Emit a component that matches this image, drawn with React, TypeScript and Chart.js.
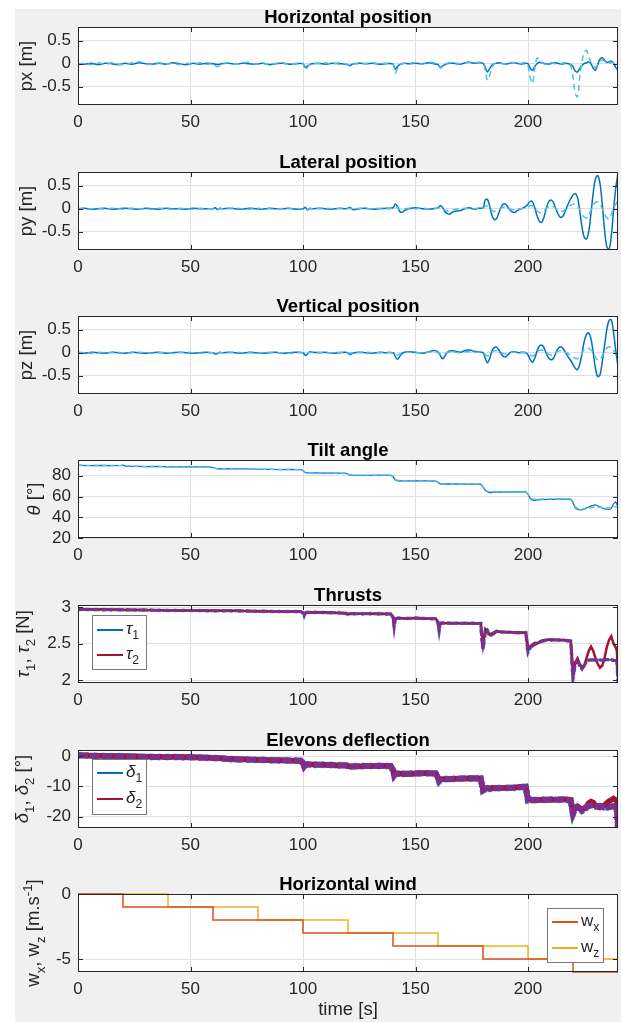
import React, { useEffect, useRef } from 'react';
import { Chart, registerables } from 'chart.js';

Chart.register(...registerables);

const FONT = '"Liberation Sans", Arial, Helvetica, sans-serif';
const TXT = '#262626';
const GRID = '#dfdfdf';

// ---------- axes ----------
const xTicks = [0, 50, 100, 150, 200];
const xTickLabels = ['0', '50', '100', '150', '200'];
const posTicks = [-0.5, 0, 0.5];
const posTickLabels = ['-0.5', '0', '0.5'];
const tiltTicks = [20, 40, 60, 80];
const tiltTickLabels = ['20', '40', '60', '80'];
const thrTicks = [2, 2.5, 3];
const thrTickLabels = ['2', '2.5', '3'];
const elevTicks = [-20, -10, 0];
const elevTickLabels = ['-20', '-10', '0'];
const windTicks = [-5, 0];
const windTickLabels = ['-5', '0'];

// ---------- positions ----------
const tPos = [
  0, 3, 6, 9, 12, 15, 18, 21, 24, 27, 30, 33, 36, 39, 42, 45, 48, 51, 54, 57,
  60, 61, 62, 63, 64,
  67, 70, 73, 76, 79, 82, 85, 88, 91, 94, 97,
  100, 101, 102, 103, 104,
  107, 110, 113, 116, 119,
  120, 121, 122,
  125, 128, 131, 134, 137,
  140, 141, 142, 143, 144, 145,
  147, 150, 153, 156, 158,
  160, 161, 162, 163, 164, 165,
  167, 170, 172, 174, 176, 178,
  180, 181, 182, 183, 184, 185, 186, 187, 188, 189,
  190, 191, 192, 193, 194, 195, 196, 197, 198, 199,
  200, 201, 202, 203, 204, 205, 206, 207, 208, 209,
  210, 211, 212, 213, 214, 215, 216, 217, 218, 219,
  220, 221, 222, 223, 224, 225, 226, 227, 228, 229,
  230, 231, 232, 233, 234, 235, 236, 237, 238, 239,
  240,
];

const pxSolid = [
  0, -0.01, 0.01, -0.02, 0.01, 0, -0.02, 0.01, -0.01, 0.02, 0, -0.01, 0.01, -0.01, 0.02, 0, -0.02, 0.01, -0.01, 0.01,
  0, -0.01, -0.02, -0.01, 0,
  0.01, -0.01, 0.01, 0, -0.01, 0.01, -0.02, 0, 0.01, -0.01, 0,
  0, -0.08, -0.05, -0.02, 0,
  0.01, -0.01, 0.01, 0, -0.01,
  -0.02, -0.04, -0.01,
  0.01, 0, 0.01, -0.01, 0,
  -0.01, -0.12, -0.06, -0.02, 0, 0.01,
  0, 0.01, 0, 0.02, 0,
  -0.02, -0.08, -0.05, -0.02, 0, 0.01,
  0.01, -0.01, 0.02, 0.03, 0.01, 0.02,
  0.01, -0.08, -0.18, -0.1, -0.03, 0, 0.01, 0.02, 0.01, 0,
  -0.01, 0, 0.01, 0.02, 0.02, 0.01, 0, -0.01, 0, 0.01,
  0, -0.1, -0.14, -0.06, 0, 0.03, 0.02, 0.01, 0, -0.01,
  0, 0.01, 0.02, 0.01, 0, -0.01, 0, 0.01, 0, -0.02,
  -0.06, -0.16, -0.18, -0.1, -0.04, 0, 0.02, 0.04, 0, -0.1,
  -0.14, -0.02, 0.1, 0.13, 0.08, 0.03, 0.04, 0.06, 0.01, -0.08,
  -0.14,
];
const pxDashed = [
  -0.01, 0.01, -0.02, 0.02, -0.01, 0.02, -0.01, -0.02, 0.02, 0.04, 0.01, -0.02, 0.02, -0.01, 0.01, -0.02, 0.01, -0.01, 0.02, -0.01,
  0, -0.04, -0.07, -0.04, 0,
  0.02, -0.01, 0.02, 0.03, -0.01, 0.02, -0.02, 0.01, 0.02, -0.02, 0.01,
  0, -0.14, -0.08, -0.02, 0.01,
  0, 0.02, -0.01, 0.02, 0,
  -0.03, -0.05, -0.01,
  0, 0.01, 0.02, 0, 0.01,
  -0.02, -0.21, -0.1, -0.03, 0, 0.01,
  0.01, 0.02, -0.01, 0.03, 0.02,
  -0.03, -0.1, -0.06, -0.02, 0.01, 0.02,
  0.02, 0, 0.02, 0.03, 0.02, 0.03,
  0.02, -0.15, -0.36, -0.25, -0.08, 0, 0.02, 0.03, 0.02, 0,
  -0.01, 0.01, 0.02, 0.03, 0.02, 0.01, 0, 0.01, 0.02, 0.01,
  -0.05, -0.3, -0.43, -0.1, 0.12, 0.1, 0.03, 0, -0.01, 0,
  0.02, 0.01, 0, -0.01, 0, 0.01, 0.02, 0.01, 0, -0.05,
  -0.3, -0.65, -0.72, -0.3, 0.05, 0.25, 0.29, 0.15, 0.02, -0.05,
  -0.08, -0.02, 0.05, 0.08, 0.06, 0.02, 0, 0.03, 0.01, -0.05,
  -0.1,
];

const pySolid = [
  0, 0.01, -0.01, 0, 0.01, -0.01, 0, 0.01, 0, -0.01, 0.01, 0, -0.01, 0.01, 0, 0, -0.01, 0.01, 0, 0,
  0, 0.02, -0.02, 0.01, 0,
  0.01, 0, -0.01, 0.01, 0, -0.01, 0.01, 0, 0, 0.01, -0.01,
  0, 0.03, -0.03, 0.01, 0,
  0.01, 0, -0.01, 0.01, 0,
  0.01, 0.03, -0.02,
  0, 0.01, -0.01, 0, 0.01,
  0.02, 0.1, 0.05, -0.06, -0.08, -0.04,
  0, 0.02, 0, -0.01, 0,
  0.02, 0.07, 0.03, -0.06, -0.1, -0.12,
  -0.06, -0.04, 0, 0.02, -0.01, 0.01,
  0.02, 0.19, 0.2, 0.05, -0.15, -0.24, -0.22, -0.1, 0.03, 0.1,
  0.1, 0.04, -0.03, -0.07, -0.08, -0.05, -0.02, 0, 0.02, 0.05,
  0.1, 0.16, 0.15, 0.02, -0.15, -0.27, -0.3, -0.2, -0.02, 0.13,
  0.19, 0.16, 0.05, -0.08, -0.17, -0.19, -0.12, 0, 0.12, 0.22,
  0.3, 0.33, 0.25, -0.05, -0.4, -0.62, -0.66, -0.5, -0.1, 0.35,
  0.66, 0.72, 0.55, 0.1, -0.45, -0.82, -0.89, -0.6, -0.05, 0.45,
  0.78,
];
const pyDashed = [
  0.01, -0.01, 0, 0.01, -0.01, 0.01, 0, -0.01, 0.01, 0, 0, -0.01, 0.01, 0, -0.01, 0.01, 0, -0.01, 0.01, 0,
  0, 0.01, -0.01, 0, 0,
  0, 0.01, 0, -0.01, 0.01, 0, 0, -0.01, 0.01, 0, 0,
  0, 0.01, -0.01, 0, 0,
  0, 0.01, 0, 0, 0.01,
  0, 0.01, -0.01,
  0.01, 0, 0, 0.01, 0,
  0.01, 0.05, 0.03, -0.02, -0.03, -0.01,
  0.01, 0, 0.01, 0, 0.01,
  0.01, 0.03, 0.01, -0.03, -0.05, -0.04,
  -0.02, 0, 0.01, 0, 0, 0.01,
  0.01, 0.05, 0.06, 0.02, -0.04, -0.06, -0.05, -0.02, 0.01, 0.03,
  0.03, 0.01, -0.01, -0.02, -0.02, -0.01, 0, 0, 0.01, 0.02,
  0.04, 0.07, 0.06, 0.01, -0.05, -0.08, -0.08, -0.05, 0, 0.04,
  0.06, 0.05, 0.02, -0.02, -0.05, -0.06, -0.04, 0, 0.04, 0.08,
  0.1, 0.1, 0.06, -0.02, -0.12, -0.18, -0.2, -0.14, -0.03, 0.08,
  0.14, 0.15, 0.1, 0, -0.12, -0.2, -0.22, -0.12, 0, 0.1,
  0.16,
];

const pzSolid = [
  0, -0.01, 0.01, 0, -0.01, 0.01, 0, -0.01, 0.01, 0, -0.01, 0, 0.01, -0.01, 0, 0.01, 0, -0.01, 0, 0.01,
  0, -0.03, -0.02, 0.01, 0,
  0.01, 0, -0.01, 0.01, 0, -0.01, 0, 0.01, -0.01, 0, 0.01,
  0, -0.06, -0.03, 0.02, 0.01,
  0, 0.01, -0.01, 0, 0.01,
  -0.01, -0.04, -0.01,
  0.01, 0, -0.01, 0.01, 0,
  0, -0.08, -0.14, -0.08, -0.02, 0.01,
  0.02, 0.01, -0.01, 0.02, 0.05,
  0.02, -0.06, -0.13, -0.08, 0, 0.04,
  0.04, 0.01, 0.05, 0.06, 0.03, 0.02,
  0, -0.12, -0.22, -0.12, 0.04, 0.11, 0.12, 0.06, -0.02, -0.08,
  -0.09, -0.05, 0, 0.02, 0.02, 0.01, 0, 0.01, 0.01, 0,
  -0.05, -0.15, -0.21, -0.12, 0.03, 0.14, 0.17, 0.12, 0, -0.1,
  -0.15, -0.14, -0.05, 0.06, 0.12, 0.12, 0.06, -0.02, -0.1, -0.17,
  -0.26, -0.34, -0.37, -0.25, -0.02, 0.25, 0.4, 0.43, 0.3, 0,
  -0.35, -0.52, -0.48, -0.2, 0.15, 0.5, 0.7, 0.72, 0.45, 0.05,
  -0.3,
];
const pzDashed = [
  0.01, 0, -0.01, 0.01, 0, 0, 0.01, -0.01, 0, 0.01, 0, -0.01, 0, 0.01, -0.01, 0, 0.01, 0, -0.01, 0,
  0, -0.01, -0.01, 0, 0,
  0, 0.01, 0, 0, -0.01, 0, 0.01, 0, 0, -0.01, 0,
  0, -0.02, -0.01, 0.01, 0,
  0.01, 0, 0, 0.01, 0,
  0, -0.01, 0,
  0, 0.01, 0, 0, 0.01,
  0, -0.03, -0.05, -0.03, 0, 0,
  0.01, 0, 0, 0.01, 0.02,
  0, -0.03, -0.05, -0.02, 0, 0.01,
  0.01, 0, 0.02, 0.02, 0.01, 0.01,
  0, -0.04, -0.07, -0.04, 0.01, 0.04, 0.04, 0.02, 0, -0.02,
  -0.03, -0.02, 0, 0.01, 0.01, 0, 0, 0, 0, 0,
  -0.02, -0.05, -0.07, -0.04, 0.01, 0.05, 0.06, 0.04, 0, -0.03,
  -0.05, -0.05, -0.02, 0.02, 0.04, 0.04, 0.02, 0, -0.03, -0.06,
  -0.09, -0.12, -0.13, -0.09, -0.01, 0.07, 0.1, 0.1, 0.06, 0,
  -0.1, -0.16, -0.15, -0.07, 0.03, 0.1, 0.13, 0.12, 0.06, -0.04,
  -0.12,
];

// ---------- tilt ----------
const tTilt = [
  0, 5, 10, 15, 19, 20, 21, 25, 30, 35,
  40, 45, 50, 55, 59, 60, 61, 62, 65, 70,
  75, 80, 85, 90, 95, 99, 100, 101, 102, 105,
  110, 115, 119, 120, 121, 125, 130, 135, 139, 140,
  141, 142, 145, 150, 155, 159, 160, 161, 162, 165,
  170, 175, 179, 180, 181, 182, 183, 185, 190, 195,
  199, 200, 201, 202, 203, 205, 210, 215, 219, 220,
  221, 222, 223, 224, 226, 228, 230, 232, 234, 236,
  237, 238, 239, 240,
];
const tiltSolid = [
  90, 89.8, 90, 89.7, 90, 90.3, 89.3, 89, 88.8, 89,
  88.6, 88.7, 88.5, 88.6, 88.4, 88, 87, 86.7, 86.8, 86.6,
  86.7, 86.3, 86.2, 86, 86.1, 85.8, 85, 83, 82.7, 82.8,
  82.6, 82.5, 82.4, 81.5, 80.5, 80.5, 80.4, 80.6, 80.5, 79,
  76, 75, 75.2, 75, 75.1, 74.8, 73.5, 72.2, 72, 72.2,
  72, 71.9, 72, 69, 66, 64.5, 63.5, 64.5, 64.3, 64.5,
  64.4, 62, 58, 56.5, 56.3, 57, 57.2, 57.4, 57.5, 54,
  49, 47.5, 47, 47.2, 49, 51, 52, 50, 48, 47.5,
  48.5, 53, 55, 50,
];
const tiltDashed = [
  90.2, 90, 89.8, 90, 89.8, 90, 89.6, 89.2, 89, 88.9,
  88.7, 88.6, 88.6, 88.5, 88.5, 88.2, 87.2, 86.9, 86.9, 86.7,
  86.6, 86.4, 86.3, 86.1, 86, 85.9, 85.2, 83.3, 82.9, 82.7,
  82.7, 82.4, 82.5, 81.7, 80.8, 80.6, 80.5, 80.5, 80.6, 79.5,
  76.5, 75.5, 75.3, 75.1, 75, 74.9, 73.8, 72.5, 72.1, 72.1,
  72.1, 72, 71.9, 69.5, 66.5, 65, 64.6, 64.6, 64.5, 64.4,
  64.5, 62.5, 58.5, 57.5, 57.5, 57.5, 57.6, 57.5, 57.6, 55,
  50, 48.5, 48, 47.8, 48.2, 49.2, 50, 49.6, 49, 49,
  49.4, 50, 50, 49.5,
];

// ---------- thrusts & elevons ----------
const tAct = [
  0, 10, 20, 30, 40, 50, 60, 70, 80, 90,
  99, 100, 100.5, 101, 102, 105, 110, 115, 119, 120,
  121, 125, 130, 135, 139, 140, 140.5, 141, 142, 145,
  150, 155, 159, 160, 160.5, 161, 162, 165, 170, 175,
  179, 179.5, 180, 181, 182, 183, 184, 186, 188, 190,
  195, 199, 199.5, 200, 201, 202, 203, 204, 206, 208,
  210, 213, 216, 219, 219.5, 220, 221, 222, 223, 224,
  225, 226, 227, 228, 229, 230, 231, 232, 233, 234,
  235, 236, 237, 238, 239, 239.5, 240,
];
const tau1 = [
  2.97, 2.97, 2.965, 2.96, 2.96, 2.955, 2.955, 2.95, 2.945, 2.945,
  2.94, 2.93, 2.89, 2.92, 2.93, 2.93, 2.93, 2.925, 2.92, 2.91,
  2.91, 2.915, 2.91, 2.91, 2.91, 2.88, 2.75, 2.84, 2.85, 2.85,
  2.85, 2.845, 2.845, 2.8, 2.7, 2.78, 2.78, 2.785, 2.78, 2.78,
  2.78, 2.6, 2.45, 2.68, 2.7, 2.63, 2.62, 2.68, 2.66, 2.66,
  2.655, 2.65, 2.55, 2.4, 2.47, 2.46, 2.49, 2.5, 2.53, 2.55,
  2.56, 2.55, 2.55, 2.54, 2.3, 2.08, 2.25, 2.28, 2.2, 2.16,
  2.2, 2.26, 2.28, 2.27, 2.27, 2.28, 2.28, 2.27, 2.28, 2.28,
  2.29, 2.28, 2.28, 2.27, 2.27, 2.27, 2.0,
];
const tau2 = [
  2.965, 2.97, 2.96, 2.96, 2.955, 2.955, 2.95, 2.95, 2.945, 2.94,
  2.94, 2.925, 2.9, 2.92, 2.93, 2.925, 2.93, 2.92, 2.92, 2.905,
  2.91, 2.91, 2.91, 2.905, 2.91, 2.87, 2.78, 2.83, 2.85, 2.845,
  2.85, 2.84, 2.84, 2.8, 2.72, 2.77, 2.78, 2.78, 2.78, 2.775,
  2.78, 2.62, 2.5, 2.7, 2.66, 2.62, 2.64, 2.67, 2.66, 2.655,
  2.655, 2.65, 2.56, 2.45, 2.46, 2.49, 2.51, 2.5, 2.54, 2.55,
  2.555, 2.55, 2.545, 2.54, 2.35, 2.12, 2.24, 2.3, 2.22, 2.18,
  2.2, 2.3, 2.4, 2.46, 2.4, 2.3, 2.22, 2.17, 2.2, 2.3,
  2.45, 2.55, 2.6, 2.5, 2.45, 2.4, 2.05,
];
const tauRef = [
  2.97, 2.965, 2.965, 2.96, 2.955, 2.955, 2.95, 2.95, 2.945, 2.94,
  2.94, 2.92, 2.88, 2.92, 2.93, 2.93, 2.925, 2.925, 2.915, 2.9,
  2.91, 2.91, 2.91, 2.91, 2.905, 2.86, 2.72, 2.84, 2.85, 2.845,
  2.85, 2.845, 2.84, 2.78, 2.68, 2.78, 2.785, 2.78, 2.78, 2.78,
  2.775, 2.55, 2.42, 2.66, 2.66, 2.61, 2.62, 2.67, 2.66, 2.66,
  2.65, 2.65, 2.5, 2.38, 2.45, 2.47, 2.49, 2.51, 2.53, 2.55,
  2.55, 2.55, 2.55, 2.53, 2.25, 2.03, 2.22, 2.27, 2.2, 2.15,
  2.2, 2.25, 2.27, 2.28, 2.28, 2.27, 2.28, 2.28, 2.27, 2.28,
  2.28, 2.28, 2.28, 2.27, 2.27, 2.27, 1.98,
];
const delta1 = [
  0.3, 0.1, 0, -0.1, -0.2, -0.3, -0.5, -1, -1.2, -1.4,
  -1.6, -2.2, -3.2, -2.8, -2.7, -2.8, -2.9, -3, -3, -3.2,
  -3.5, -3.4, -3.3, -3.2, -3.2, -4.5, -6.2, -5.8, -5.8, -5.9,
  -5.7, -5.6, -5.8, -7, -8, -7.8, -7.6, -7.5, -7.4, -7.3,
  -7.4, -9, -11, -10.8, -10.5, -10.7, -10.6, -10.5, -10.6, -10.5,
  -10.3, -10, -12, -14, -14.2, -14.5, -14.6, -14.4, -14.5, -14.3,
  -14.4, -14.3, -14.2, -14.5, -16.5, -18.5, -17, -16.5, -17, -17.8,
  -17.5, -16.8, -16.2, -16, -16.2, -16.5, -16.4, -16.3, -16.5, -16.8,
  -17, -16.8, -16.5, -16.5, -16.6, -17, -23.5,
];
const delta2 = [
  0.2, 0.1, -0.1, -0.2, -0.2, -0.4, -0.6, -1, -1.3, -1.4,
  -1.6, -2.4, -3, -2.8, -2.8, -2.8, -2.9, -3.1, -3, -3.3,
  -3.4, -3.4, -3.3, -3.3, -3.2, -4.7, -6, -5.8, -5.7, -5.9,
  -5.8, -5.6, -5.7, -7.2, -7.8, -7.7, -7.6, -7.5, -7.5, -7.3,
  -7.4, -9.5, -10.8, -10.6, -10.6, -10.7, -10.5, -10.5, -10.6, -10.4,
  -10.3, -10.1, -12.5, -13.8, -14.3, -14.4, -14.6, -14.5, -14.4, -14.3,
  -14.4, -14.4, -14.2, -14.4, -16.8, -18, -17.2, -16.6, -17.2, -17.6,
  -17.2, -16.5, -15.5, -15, -15.3, -16.3, -16.8, -17, -16.6, -16.2,
  -15.5, -14.8, -14.5, -14, -14.5, -15, -22,
];
const deltaRef = [
  0.3, 0, -0.1, -0.3, -0.3, -0.4, -0.6, -1.1, -1.2, -1.5,
  -1.5, -2.3, -3.4, -2.9, -2.7, -2.9, -2.9, -3, -3.1, -3.3,
  -3.4, -3.3, -3.3, -3.2, -3.3, -4.6, -6.4, -5.9, -5.8, -5.8,
  -5.7, -5.7, -5.8, -7.1, -8.2, -7.8, -7.5, -7.6, -7.4, -7.4,
  -7.3, -9.2, -11.3, -10.9, -10.5, -10.8, -10.6, -10.6, -10.5, -10.5,
  -10.4, -10.1, -12.3, -14.5, -14.3, -14.6, -14.5, -14.5, -14.4, -14.4,
  -14.3, -14.4, -14.3, -14.6, -17, -19, -17.3, -16.7, -17.2, -18,
  -17.6, -17, -16.4, -16.2, -16.3, -16.6, -16.5, -16.4, -16.6, -16.9,
  -17, -16.9, -16.6, -16.6, -16.7, -17.2, -23.6,
];

// ---------- wind ----------
const wxTime = [0, 20, 60, 100, 140, 180, 220, 240];
const wxVals = [0, -1, -2, -3, -4, -5, -6, -6];
const wzTime = [0, 40, 80, 120, 160, 200, 240];
const wzVals = [0, -1, -2, -3, -4, -5, -5];

// ---------- colours ----------
const C_BLUE = '#0072BD';
const C_LBLUE = '#4DBEEE';
const C_RED = '#A2142F';
const C_PURPLE = '#7E2F8E';
const C_ORANGE = '#D95319';
const C_YELLOW = '#EDB120';

type Seg = { t: string; it?: boolean; sub?: boolean; sup?: boolean };
type LegendSpec = {
  left?: number;
  right?: number;
  top: number;
  w: number;
  h: number;
  rows: number[];
  items: { color: string; label: Seg[] }[];
};
type PanelSpec = {
  top: number;
  title: string;
  yLabel: Seg[];
  yLabelBase: number;
  yMin: number;
  yMax: number;
  yTicks: number[];
  yTickLabels: string[];
  datasets: any[];
  legend?: LegendSpec;
  xLabel?: string;
  xAxisH: number;
};

const pts = (t: number[], v: number[]) => t.map((x, i) => ({ x, y: v[i] }));
const line = (data: any[], color: string, width: number, dash: number[] = [], extra: any = {}) => ({
  data,
  borderColor: color,
  backgroundColor: color,
  borderWidth: width,
  borderDash: dash,
  pointRadius: 0,
  fill: false,
  tension: 0,
  ...extra,
});

const CANVAS_LEFT = 15;
const CANVAS_W = 606;
const PAD_TOP = 30;
const PLOT_H = 78;
const LABEL_SIZE = 18.5;
const TICK_SIZE = 17;

function drawRich(ctx: CanvasRenderingContext2D, segs: Seg[], x: number, y: number, size: number, align: 'center' | 'left') {
  const parts = segs.map((s) => {
    const fs = s.sub || s.sup ? size * 0.72 : size;
    const font = `${s.it ? 'italic ' : ''}${fs}px ${FONT}`;
    ctx.font = font;
    return { s, font, w: ctx.measureText(s.t).width, dy: s.sub ? size * 0.3 : s.sup ? -size * 0.4 : 0 };
  });
  const total = parts.reduce((a, p) => a + p.w, 0);
  let cx = align === 'center' ? x - total / 2 : x;
  for (const p of parts) {
    ctx.font = p.font;
    ctx.fillText(p.s.t, cx, y + p.dy);
    cx += p.w;
  }
}

function makeDeco(spec: PanelSpec) {
  return {
    id: 'deco',
    beforeDraw(chart: any) {
      const { ctx, chartArea: a } = chart;
      ctx.save();
      ctx.fillStyle = '#ffffff';
      ctx.fillRect(a.left, a.top, a.right - a.left, a.bottom - a.top);
      ctx.restore();
    },
    afterDraw(chart: any) {
      const { ctx, chartArea: a } = chart;
      const xs = chart.scales.x;
      const ys = chart.scales.y;
      ctx.save();
      // axes box
      ctx.strokeStyle = TXT;
      ctx.lineWidth = 1;
      ctx.strokeRect(a.left + 0.5, a.top + 0.5, a.right - a.left - 1, a.bottom - a.top - 1);
      // inward tick marks
      ctx.beginPath();
      for (const v of xTicks) {
        const px = Math.round(xs.getPixelForValue(v)) + 0.5;
        ctx.moveTo(px, a.bottom);
        ctx.lineTo(px, a.bottom - 5);
        ctx.moveTo(px, a.top);
        ctx.lineTo(px, a.top + 5);
      }
      for (const v of spec.yTicks) {
        const py = Math.round(ys.getPixelForValue(v)) + 0.5;
        ctx.moveTo(a.left, py);
        ctx.lineTo(a.left + 5, py);
        ctx.moveTo(a.right, py);
        ctx.lineTo(a.right - 5, py);
      }
      ctx.stroke();
      // title
      ctx.fillStyle = '#000';
      ctx.font = `bold ${LABEL_SIZE}px ${FONT}`;
      ctx.textAlign = 'center';
      ctx.textBaseline = 'alphabetic';
      ctx.fillText(spec.title, (a.left + a.right) / 2, a.top - 4.5);
      // y label
      ctx.fillStyle = TXT;
      ctx.textAlign = 'left';
      ctx.save();
      ctx.translate(spec.yLabelBase - CANVAS_LEFT, (a.top + a.bottom) / 2);
      ctx.rotate(-Math.PI / 2);
      drawRich(ctx, spec.yLabel, 0, 0, LABEL_SIZE, 'center');
      ctx.restore();
      // x label
      if (spec.xLabel) {
        ctx.font = `${LABEL_SIZE}px ${FONT}`;
        ctx.textAlign = 'center';
        ctx.textBaseline = 'middle';
        ctx.fillText(spec.xLabel, (a.left + a.right) / 2, 1010 - (spec.top - PAD_TOP));
        ctx.textBaseline = 'alphabetic';
        ctx.textAlign = 'left';
      }
      // legend
      const lg = spec.legend;
      if (lg) {
        const bx = lg.left !== undefined ? a.left + lg.left : a.right - (lg.right || 0) - lg.w;
        const by = a.top + lg.top;
        ctx.fillStyle = '#fff';
        ctx.fillRect(bx, by, lg.w, lg.h);
        ctx.strokeStyle = '#7a7a7a';
        ctx.lineWidth = 1;
        ctx.strokeRect(Math.round(bx) + 0.5, Math.round(by) + 0.5, lg.w, lg.h);
        lg.items.forEach((it, i) => {
          const ry = by + lg.rows[i];
          ctx.strokeStyle = it.color;
          ctx.lineWidth = 2;
          ctx.beginPath();
          ctx.moveTo(bx + 5, ry);
          ctx.lineTo(bx + 31, ry);
          ctx.stroke();
          ctx.fillStyle = TXT;
          ctx.textAlign = 'left';
          drawRich(ctx, it.label, bx + 34, ry + 4, 17, 'left');
        });
      }
      ctx.restore();
    },
  };
}

function buildConfig(spec: PanelSpec): any {
  return {
    type: 'line',
    data: { datasets: spec.datasets },
    options: {
      animation: false,
      responsive: false,
      maintainAspectRatio: false,
      events: [],
      layout: { padding: { top: PAD_TOP, right: 3, left: 0, bottom: 0 } },
      plugins: { legend: { display: false }, tooltip: { enabled: false }, title: { display: false } },
      scales: {
        x: {
          type: 'linear',
          min: 0,
          max: 240,
          afterFit: (s: any) => {
            s.height = spec.xAxisH;
          },
          afterBuildTicks: (s: any) => {
            s.ticks = xTicks.map((v) => ({ value: v }));
          },
          ticks: {
            autoSkip: false,
            maxRotation: 0,
            padding: 7,
            color: TXT,
            font: { size: TICK_SIZE, family: FONT },
            callback: (v: number) => xTickLabels[xTicks.indexOf(v)],
          },
          grid: { color: GRID, drawTicks: false, lineWidth: 1 },
          border: { display: false },
        },
        y: {
          type: 'linear',
          min: spec.yMin,
          max: spec.yMax,
          afterFit: (s: any) => {
            s.width = 78 - CANVAS_LEFT;
          },
          afterBuildTicks: (s: any) => {
            s.ticks = spec.yTicks.map((v) => ({ value: v }));
          },
          ticks: {
            autoSkip: false,
            padding: 7,
            color: TXT,
            font: { size: TICK_SIZE, family: FONT },
            callback: (v: number) => spec.yTickLabels[spec.yTicks.indexOf(v)],
          },
          grid: { color: GRID, drawTicks: false, lineWidth: 1 },
          border: { display: false },
        },
      },
    },
    plugins: [makeDeco(spec)],
  };
}

const sub = (t: string): Seg => ({ t, sub: true });

const panels: PanelSpec[] = [
  {
    top: 27,
    title: 'Horizontal position',
    yLabel: [{ t: 'px [m]' }],
    yLabelBase: 32,
    yMin: -0.9,
    yMax: 0.8,
    yTicks: posTicks,
    yTickLabels: posTickLabels,
    xAxisH: 36,
    datasets: [
      line(pts(tPos, pxDashed), C_LBLUE, 1.5, [6, 4], { tension: 0.35 }),
      line(pts(tPos, pxSolid), C_BLUE, 1.5, [], { tension: 0.35 }),
    ],
  },
  {
    top: 172,
    title: 'Lateral position',
    yLabel: [{ t: 'py [m]' }],
    yLabelBase: 32,
    yMin: -0.9,
    yMax: 0.8,
    yTicks: posTicks,
    yTickLabels: posTickLabels,
    xAxisH: 36,
    datasets: [
      line(pts(tPos, pyDashed), C_LBLUE, 1.5, [6, 4], { tension: 0.35 }),
      line(pts(tPos, pySolid), C_BLUE, 1.5, [], { tension: 0.35 }),
    ],
  },
  {
    top: 316,
    title: 'Vertical position',
    yLabel: [{ t: 'pz [m]' }],
    yLabelBase: 32,
    yMin: -0.9,
    yMax: 0.8,
    yTicks: posTicks,
    yTickLabels: posTickLabels,
    xAxisH: 36,
    datasets: [
      line(pts(tPos, pzDashed), C_LBLUE, 1.5, [6, 4], { tension: 0.35 }),
      line(pts(tPos, pzSolid), C_BLUE, 1.5, [], { tension: 0.35 }),
    ],
  },
  {
    top: 460,
    title: 'Tilt angle',
    yLabel: [{ t: 'θ', it: true }, { t: ' [°]' }],
    yLabelBase: 40,
    yMin: 20,
    yMax: 95.2,
    yTicks: tiltTicks,
    yTickLabels: tiltTickLabels,
    xAxisH: 36,
    datasets: [
      line(pts(tTilt, tiltDashed), C_LBLUE, 1.4, [5, 3]),
      line(pts(tTilt, tiltSolid), C_BLUE, 1.2),
    ],
  },
  {
    top: 605,
    title: 'Thrusts',
    yLabel: [{ t: 'τ', it: true }, sub('1'), { t: ', ' }, { t: 'τ', it: true }, sub('2'), { t: ' [N]' }],
    yLabelBase: 29,
    yMin: 1.96,
    yMax: 3.03,
    yTicks: thrTicks,
    yTickLabels: thrTickLabels,
    xAxisH: 36,
    legend: {
      left: 14,
      top: 10,
      w: 54,
      h: 54,
      rows: [15, 40],
      items: [
        { color: C_BLUE, label: [{ t: 'τ', it: true }, sub('1')] },
        { color: C_RED, label: [{ t: 'τ', it: true }, sub('2')] },
      ],
    },
    datasets: [
      line(pts(tAct, tauRef), C_PURPLE, 3, [10, 2]),
      line(pts(tAct, tau2), C_RED, 2.5),
      line(pts(tAct, tauRef), C_LBLUE, 3.8, [3, 5]),
      line(pts(tAct, tau1), C_BLUE, 2),
    ],
  },
  {
    top: 750,
    title: 'Elevons deflection',
    yLabel: [{ t: 'δ', it: true }, sub('1'), { t: ', ' }, { t: 'δ', it: true }, sub('2'), { t: ' [°]' }],
    yLabelBase: 28,
    yMin: -23.7,
    yMax: 2,
    yTicks: elevTicks,
    yTickLabels: elevTickLabels,
    xAxisH: 36,
    legend: {
      left: 14,
      top: 9,
      w: 54,
      h: 55,
      rows: [14, 40],
      items: [
        { color: C_BLUE, label: [{ t: 'δ', it: true }, sub('1')] },
        { color: C_RED, label: [{ t: 'δ', it: true }, sub('2')] },
      ],
    },
    datasets: [
      line(pts(tAct, deltaRef), C_PURPLE, 6, [10, 2]),
      line(pts(tAct, delta2), C_RED, 5.5),
      line(pts(tAct, deltaRef), C_LBLUE, 7, [3, 5]),
      line(pts(tAct, delta1), C_BLUE, 5),
    ],
  },
  {
    top: 894,
    title: 'Horizontal wind',
    yLabel: [{ t: 'w' }, sub('x'), { t: ', w' }, sub('z'), { t: ' [m.s' }, { t: '-1', sup: true }, { t: ']' }],
    yLabelBase: 39,
    yMin: -6,
    yMax: 0,
    yTicks: windTicks,
    yTickLabels: windTickLabels,
    xAxisH: 50,
    xLabel: 'time [s]',
    legend: {
      right: 15,
      top: 14,
      w: 56,
      h: 54,
      rows: [14, 40],
      items: [
        { color: C_ORANGE, label: [{ t: 'w' }, sub('x')] },
        { color: C_YELLOW, label: [{ t: 'w' }, sub('z')] },
      ],
    },
    datasets: [
      line(pts(wxTime, wxVals), C_ORANGE, 1.5, [], { stepped: true, clip: false }),
      line(pts(wzTime, wzVals), C_YELLOW, 1.5, [], { stepped: true, clip: false }),
    ],
  },
];

function Panel({ spec }: { spec: PanelSpec }) {
  const ref = useRef<HTMLCanvasElement>(null);
  const H = PAD_TOP + PLOT_H + spec.xAxisH;
  useEffect(() => {
    const chart = new Chart(ref.current as HTMLCanvasElement, buildConfig(spec));
    return () => chart.destroy();
  }, []);
  return (
    <canvas
      ref={ref}
      width={CANVAS_W}
      height={H}
      style={{ position: 'absolute', left: CANVAS_LEFT, top: spec.top - PAD_TOP, width: CANVAS_W, height: H }}
    />
  );
}

export default function App() {
  return (
    <div style={{ position: 'absolute', left: 0, top: 0, width: 621, height: 1022, overflow: 'hidden', background: '#fff' }}>
      <div style={{ position: 'absolute', left: 15, top: 9, width: 606, height: 1013, background: '#f0f0f0' }} />
      {panels.map((p, i) => (
        <Panel key={i} spec={p} />
      ))}
    </div>
  );
}
